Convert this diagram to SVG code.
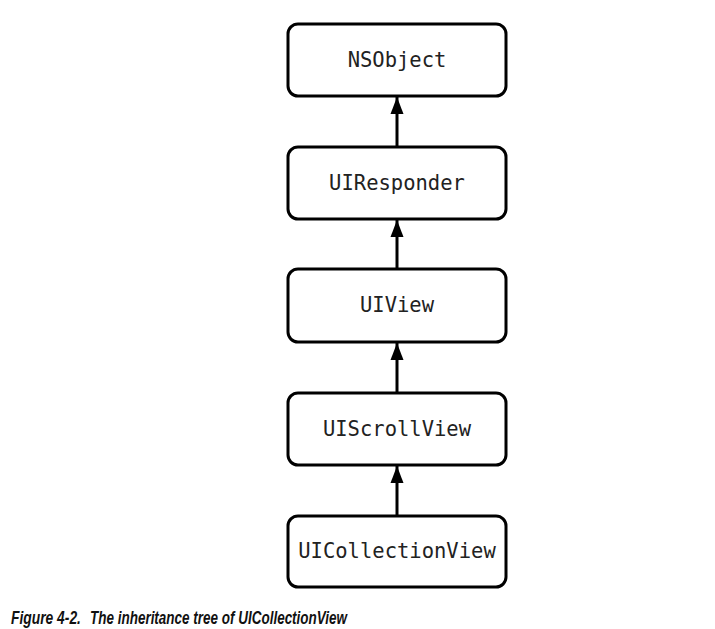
<svg xmlns="http://www.w3.org/2000/svg" width="715" height="629" viewBox="0 0 715 629">
<style>
.box{fill:#fff;stroke:#000;stroke-width:3}
.lbl{font-family:"DejaVu Sans Mono",monospace;font-size:20.5px;fill:#222;text-anchor:middle;dominant-baseline:central}
.edge{stroke:#000;stroke-width:3;fill:none}
.cap{font-family:"Liberation Sans",Arial,sans-serif;font-size:17.5px;font-style:italic;font-weight:bold;fill:#111}
</style>
<defs>
<marker id="ah" viewBox="0 0 17 14" refX="17" refY="7" markerWidth="17" markerHeight="14" markerUnits="userSpaceOnUse" orient="auto">
<path d="M0,0.5 L17,7 L0,13.5 Z" fill="#000"/>
</marker>
</defs>
<rect width="715" height="629" fill="#fff"/>
<g id="connectors">
<line class="edge" x1="397" y1="146" x2="397" y2="97" marker-end="url(#ah)"/>
<line class="edge" x1="397" y1="268" x2="397" y2="220" marker-end="url(#ah)"/>
<line class="edge" x1="397" y1="392" x2="397" y2="343" marker-end="url(#ah)"/>
<line class="edge" x1="397" y1="515" x2="397" y2="466" marker-end="url(#ah)"/>
</g>
<g id="NSObject"><rect class="box" x="288" y="24" width="218" height="72" rx="10"/><text class="lbl" x="397" y="60">NSObject</text></g>
<g id="UIResponder"><rect class="box" x="288" y="147" width="218" height="72" rx="10"/><text class="lbl" x="397" y="183">UIResponder</text></g>
<g id="UIView"><rect class="box" x="288" y="269" width="218" height="73" rx="10"/><text class="lbl" x="397" y="305">UIView</text></g>
<g id="UIScrollView"><rect class="box" x="288" y="393" width="218" height="72" rx="10"/><text class="lbl" x="397" y="429">UIScrollView</text></g>
<g id="UICollectionView"><rect class="box" x="288" y="516" width="218" height="71" rx="10"/><text class="lbl" x="397" y="551">UICollectionView</text></g>
<g id="caption" transform="translate(11,624) scale(0.78,1)">
<text class="cap" x="0" y="0" textLength="89.7" lengthAdjust="spacingAndGlyphs">Figure 4-2.</text>
<text class="cap" x="101.3" y="0" textLength="329.5" lengthAdjust="spacingAndGlyphs">The inheritance tree of UICollectionView</text>
</g>
</svg>
